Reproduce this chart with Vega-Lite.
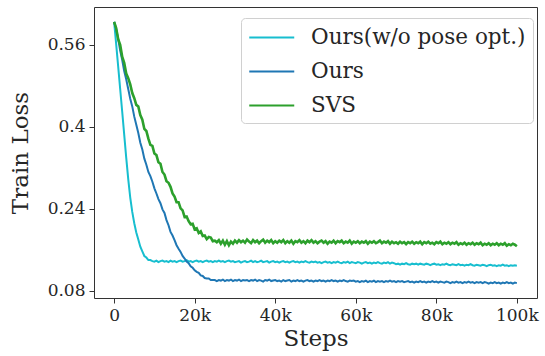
{
  "$schema": "https://vega.github.io/schema/vega-lite/v6.json",
  "width": 443,
  "height": 291,
  "autosize": {"type": "none"},
  "padding": {"left": 94, "top": 7, "right": 8, "bottom": 58},
  "config": {
    "font": "DejaVu Serif",
    "view": {"stroke": "#333333", "strokeWidth": 1},
    "axis": {
      "grid": false, "domain": false,
      "labelFont": "DejaVu Serif", "titleFont": "DejaVu Serif",
      "labelFontSize": 17, "titleFontSize": 23,
      "labelColor": "#262626", "titleColor": "#262626",
      "tickColor": "#333333", "tickSize": 5, "labelPadding": 4,
      "titleFontWeight": "normal"
    }
  },
  "data": {"values": [
    {"s":0,"c":0.605,"b":0.605,"g":0.605},
    {"s":500,"c":0.562,"b":0.591,"g":0.593},
    {"s":1000,"c":0.518,"b":0.572,"g":0.571},
    {"s":1500,"c":0.474,"b":0.549,"g":0.560},
    {"s":2000,"c":0.430,"b":0.531,"g":0.537},
    {"s":2500,"c":0.385,"b":0.509,"g":0.525},
    {"s":3000,"c":0.340,"b":0.493,"g":0.504},
    {"s":3500,"c":0.298,"b":0.474,"g":0.495},
    {"s":4000,"c":0.262,"b":0.455,"g":0.483},
    {"s":4500,"c":0.234,"b":0.440,"g":0.466},
    {"s":5000,"c":0.212,"b":0.420,"g":0.456},
    {"s":5500,"c":0.194,"b":0.404,"g":0.443},
    {"s":6000,"c":0.180,"b":0.388,"g":0.440},
    {"s":6500,"c":0.166,"b":0.369,"g":0.423},
    {"s":7000,"c":0.157,"b":0.356,"g":0.414},
    {"s":7500,"c":0.148,"b":0.338,"g":0.396},
    {"s":8000,"c":0.145,"b":0.326,"g":0.392},
    {"s":8500,"c":0.140,"b":0.312,"g":0.377},
    {"s":9000,"c":0.140,"b":0.304,"g":0.365},
    {"s":9500,"c":0.138,"b":0.293,"g":0.363},
    {"s":10000,"c":0.137,"b":0.280,"g":0.348},
    {"s":10500,"c":0.139,"b":0.270,"g":0.345},
    {"s":11000,"c":0.136,"b":0.259,"g":0.331},
    {"s":11500,"c":0.138,"b":0.251,"g":0.328},
    {"s":12000,"c":0.139,"b":0.239,"g":0.312},
    {"s":12500,"c":0.137,"b":0.232,"g":0.307},
    {"s":13000,"c":0.138,"b":0.218,"g":0.294},
    {"s":13500,"c":0.136,"b":0.208,"g":0.291},
    {"s":14000,"c":0.139,"b":0.195,"g":0.283},
    {"s":14500,"c":0.137,"b":0.188,"g":0.270},
    {"s":15000,"c":0.138,"b":0.179,"g":0.264},
    {"s":15500,"c":0.136,"b":0.169,"g":0.253},
    {"s":16000,"c":0.138,"b":0.162,"g":0.253},
    {"s":16500,"c":0.139,"b":0.156,"g":0.241},
    {"s":17000,"c":0.137,"b":0.148,"g":0.237},
    {"s":17500,"c":0.138,"b":0.143,"g":0.224},
    {"s":18000,"c":0.140,"b":0.137,"g":0.225},
    {"s":18500,"c":0.137,"b":0.134,"g":0.216},
    {"s":19000,"c":0.138,"b":0.128,"g":0.210},
    {"s":19500,"c":0.136,"b":0.125,"g":0.211},
    {"s":20000,"c":0.138,"b":0.120,"g":0.200},
    {"s":20500,"c":0.139,"b":0.117,"g":0.202},
    {"s":21000,"c":0.137,"b":0.115,"g":0.193},
    {"s":21500,"c":0.138,"b":0.110,"g":0.196},
    {"s":22000,"c":0.136,"b":0.109,"g":0.187},
    {"s":22500,"c":0.138,"b":0.105,"g":0.188},
    {"s":23000,"c":0.139,"b":0.104,"g":0.181},
    {"s":23500,"c":0.137,"b":0.104,"g":0.185},
    {"s":24000,"c":0.138,"b":0.101,"g":0.184},
    {"s":24500,"c":0.136,"b":0.101,"g":0.177},
    {"s":25000,"c":0.138,"b":0.101,"g":0.178},
    {"s":25500,"c":0.137,"b":0.099,"g":0.175},
    {"s":26000,"c":0.139,"b":0.101,"g":0.179},
    {"s":26500,"c":0.137,"b":0.100,"g":0.172},
    {"s":27000,"c":0.138,"b":0.102,"g":0.178},
    {"s":27500,"c":0.136,"b":0.099,"g":0.170},
    {"s":28000,"c":0.138,"b":0.101,"g":0.177},
    {"s":28500,"c":0.139,"b":0.100,"g":0.169},
    {"s":29000,"c":0.137,"b":0.102,"g":0.176},
    {"s":29500,"c":0.138,"b":0.099,"g":0.172},
    {"s":30000,"c":0.136,"b":0.101,"g":0.178},
    {"s":30500,"c":0.137,"b":0.100,"g":0.174},
    {"s":31000,"c":0.138,"b":0.102,"g":0.179},
    {"s":31500,"c":0.135,"b":0.099,"g":0.175},
    {"s":32000,"c":0.137,"b":0.101,"g":0.178},
    {"s":32500,"c":0.138,"b":0.100,"g":0.174},
    {"s":33000,"c":0.136,"b":0.101,"g":0.180},
    {"s":33500,"c":0.137,"b":0.099,"g":0.176},
    {"s":34000,"c":0.139,"b":0.101,"g":0.173},
    {"s":34500,"c":0.136,"b":0.100,"g":0.179},
    {"s":35000,"c":0.138,"b":0.102,"g":0.175},
    {"s":35500,"c":0.136,"b":0.099,"g":0.178},
    {"s":36000,"c":0.137,"b":0.101,"g":0.173},
    {"s":36500,"c":0.139,"b":0.100,"g":0.177},
    {"s":37000,"c":0.136,"b":0.098,"g":0.180},
    {"s":37500,"c":0.137,"b":0.101,"g":0.174},
    {"s":38000,"c":0.138,"b":0.100,"g":0.178},
    {"s":38500,"c":0.135,"b":0.102,"g":0.175},
    {"s":39000,"c":0.137,"b":0.099,"g":0.179},
    {"s":39500,"c":0.138,"b":0.100,"g":0.173},
    {"s":40000,"c":0.136,"b":0.101,"g":0.177},
    {"s":40500,"c":0.137,"b":0.099,"g":0.174},
    {"s":41000,"c":0.135,"b":0.100,"g":0.178},
    {"s":41500,"c":0.137,"b":0.098,"g":0.175},
    {"s":42000,"c":0.138,"b":0.101,"g":0.179},
    {"s":42500,"c":0.136,"b":0.099,"g":0.173},
    {"s":43000,"c":0.137,"b":0.100,"g":0.177},
    {"s":43500,"c":0.135,"b":0.101,"g":0.174},
    {"s":44000,"c":0.137,"b":0.098,"g":0.178},
    {"s":44500,"c":0.138,"b":0.100,"g":0.172},
    {"s":45000,"c":0.136,"b":0.099,"g":0.177},
    {"s":45500,"c":0.137,"b":0.101,"g":0.175},
    {"s":46000,"c":0.135,"b":0.099,"g":0.179},
    {"s":46500,"c":0.137,"b":0.100,"g":0.174},
    {"s":47000,"c":0.136,"b":0.098,"g":0.177},
    {"s":47500,"c":0.138,"b":0.100,"g":0.173},
    {"s":48000,"c":0.136,"b":0.101,"g":0.178},
    {"s":48500,"c":0.135,"b":0.099,"g":0.175},
    {"s":49000,"c":0.137,"b":0.100,"g":0.179},
    {"s":49500,"c":0.136,"b":0.098,"g":0.174},
    {"s":50000,"c":0.137,"b":0.100,"g":0.177},
    {"s":50500,"c":0.135,"b":0.099,"g":0.173},
    {"s":51000,"c":0.136,"b":0.101,"g":0.176},
    {"s":51500,"c":0.134,"b":0.099,"g":0.178},
    {"s":52000,"c":0.136,"b":0.100,"g":0.174},
    {"s":52500,"c":0.137,"b":0.098,"g":0.177},
    {"s":53000,"c":0.135,"b":0.100,"g":0.172},
    {"s":53500,"c":0.136,"b":0.099,"g":0.176},
    {"s":54000,"c":0.134,"b":0.101,"g":0.174},
    {"s":54500,"c":0.136,"b":0.099,"g":0.178},
    {"s":55000,"c":0.135,"b":0.100,"g":0.173},
    {"s":55500,"c":0.137,"b":0.098,"g":0.177},
    {"s":56000,"c":0.135,"b":0.100,"g":0.175},
    {"s":56500,"c":0.134,"b":0.099,"g":0.178},
    {"s":57000,"c":0.136,"b":0.101,"g":0.173},
    {"s":57500,"c":0.135,"b":0.099,"g":0.176},
    {"s":58000,"c":0.137,"b":0.098,"g":0.174},
    {"s":58500,"c":0.134,"b":0.100,"g":0.178},
    {"s":59000,"c":0.136,"b":0.099,"g":0.172},
    {"s":59500,"c":0.135,"b":0.100,"g":0.176},
    {"s":60000,"c":0.134,"b":0.098,"g":0.174},
    {"s":60500,"c":0.136,"b":0.099,"g":0.177},
    {"s":61000,"c":0.135,"b":0.097,"g":0.173},
    {"s":61500,"c":0.133,"b":0.099,"g":0.176},
    {"s":62000,"c":0.135,"b":0.098,"g":0.174},
    {"s":62500,"c":0.136,"b":0.100,"g":0.177},
    {"s":63000,"c":0.134,"b":0.097,"g":0.172},
    {"s":63500,"c":0.135,"b":0.099,"g":0.176},
    {"s":64000,"c":0.133,"b":0.098,"g":0.174},
    {"s":64500,"c":0.135,"b":0.100,"g":0.177},
    {"s":65000,"c":0.134,"b":0.097,"g":0.173},
    {"s":65500,"c":0.136,"b":0.099,"g":0.175},
    {"s":66000,"c":0.134,"b":0.098,"g":0.178},
    {"s":66500,"c":0.133,"b":0.099,"g":0.173},
    {"s":67000,"c":0.135,"b":0.097,"g":0.176},
    {"s":67500,"c":0.134,"b":0.099,"g":0.174},
    {"s":68000,"c":0.136,"b":0.098,"g":0.177},
    {"s":68500,"c":0.133,"b":0.100,"g":0.172},
    {"s":69000,"c":0.135,"b":0.098,"g":0.176},
    {"s":69500,"c":0.134,"b":0.099,"g":0.173},
    {"s":70000,"c":0.132,"b":0.097,"g":0.175},
    {"s":70500,"c":0.133,"b":0.099,"g":0.172},
    {"s":71000,"c":0.131,"b":0.098,"g":0.176},
    {"s":71500,"c":0.133,"b":0.099,"g":0.173},
    {"s":72000,"c":0.132,"b":0.097,"g":0.175},
    {"s":72500,"c":0.134,"b":0.098,"g":0.171},
    {"s":73000,"c":0.132,"b":0.099,"g":0.175},
    {"s":73500,"c":0.131,"b":0.097,"g":0.173},
    {"s":74000,"c":0.133,"b":0.098,"g":0.176},
    {"s":74500,"c":0.132,"b":0.096,"g":0.172},
    {"s":75000,"c":0.133,"b":0.098,"g":0.175},
    {"s":75500,"c":0.131,"b":0.097,"g":0.173},
    {"s":76000,"c":0.133,"b":0.099,"g":0.176},
    {"s":76500,"c":0.132,"b":0.097,"g":0.171},
    {"s":77000,"c":0.131,"b":0.098,"g":0.175},
    {"s":77500,"c":0.133,"b":0.096,"g":0.173},
    {"s":78000,"c":0.132,"b":0.098,"g":0.176},
    {"s":78500,"c":0.130,"b":0.097,"g":0.172},
    {"s":79000,"c":0.132,"b":0.099,"g":0.174},
    {"s":79500,"c":0.133,"b":0.097,"g":0.171},
    {"s":80000,"c":0.131,"b":0.098,"g":0.175},
    {"s":80500,"c":0.132,"b":0.096,"g":0.173},
    {"s":81000,"c":0.130,"b":0.098,"g":0.176},
    {"s":81500,"c":0.132,"b":0.097,"g":0.171},
    {"s":82000,"c":0.131,"b":0.096,"g":0.174},
    {"s":82500,"c":0.133,"b":0.098,"g":0.172},
    {"s":83000,"c":0.131,"b":0.097,"g":0.175},
    {"s":83500,"c":0.130,"b":0.095,"g":0.171},
    {"s":84000,"c":0.132,"b":0.097,"g":0.174},
    {"s":84500,"c":0.131,"b":0.096,"g":0.172},
    {"s":85000,"c":0.130,"b":0.098,"g":0.175},
    {"s":85500,"c":0.132,"b":0.096,"g":0.170},
    {"s":86000,"c":0.130,"b":0.097,"g":0.173},
    {"s":86500,"c":0.131,"b":0.095,"g":0.171},
    {"s":87000,"c":0.129,"b":0.097,"g":0.174},
    {"s":87500,"c":0.131,"b":0.096,"g":0.170},
    {"s":88000,"c":0.130,"b":0.098,"g":0.173},
    {"s":88500,"c":0.132,"b":0.096,"g":0.171},
    {"s":89000,"c":0.130,"b":0.097,"g":0.174},
    {"s":89500,"c":0.129,"b":0.095,"g":0.170},
    {"s":90000,"c":0.131,"b":0.097,"g":0.173},
    {"s":90500,"c":0.130,"b":0.096,"g":0.171},
    {"s":91000,"c":0.129,"b":0.097,"g":0.174},
    {"s":91500,"c":0.131,"b":0.095,"g":0.169},
    {"s":92000,"c":0.130,"b":0.097,"g":0.172},
    {"s":92500,"c":0.128,"b":0.096,"g":0.170},
    {"s":93000,"c":0.130,"b":0.094,"g":0.173},
    {"s":93500,"c":0.131,"b":0.096,"g":0.169},
    {"s":94000,"c":0.129,"b":0.095,"g":0.172},
    {"s":94500,"c":0.130,"b":0.097,"g":0.170},
    {"s":95000,"c":0.128,"b":0.095,"g":0.173},
    {"s":95500,"c":0.130,"b":0.096,"g":0.169},
    {"s":96000,"c":0.129,"b":0.094,"g":0.172},
    {"s":96500,"c":0.131,"b":0.096,"g":0.170},
    {"s":97000,"c":0.129,"b":0.095,"g":0.173},
    {"s":97500,"c":0.130,"b":0.097,"g":0.168},
    {"s":98000,"c":0.128,"b":0.095,"g":0.171},
    {"s":98500,"c":0.130,"b":0.096,"g":0.169},
    {"s":99000,"c":0.129,"b":0.094,"g":0.172},
    {"s":99500,"c":0.130,"b":0.096,"g":0.170},
    {"s":100000,"c":0.129,"b":0.095,"g":0.167}
  ]},
  "encoding": {
    "x": {
      "field": "s", "type": "quantitative", "title": "Steps",
      "scale": {"domain": [-5000, 105000], "nice": false, "zero": false},
      "axis": {"values": [0, 20000, 40000, 60000, 80000, 100000], "labelExpr": "datum.value == 0 ? '0' : format(datum.value, '~s')", "titlePadding": 4}
    }
  },
  "layer": [
    {
      "mark": {"type": "line", "strokeWidth": 2},
      "encoding": {
        "y": {
          "field": "c", "type": "quantitative", "title": "Train Loss",
          "scale": {"domain": [0.066, 0.634], "nice": false, "zero": false},
          "axis": {"values": [0.08, 0.24, 0.4, 0.56], "format": ".2~f", "titlePadding": 15}
        },
        "color": {
          "datum": "Ours(w/o pose opt.)", "type": "nominal",
          "scale": {"domain": ["Ours(w/o pose opt.)", "Ours", "SVS"], "range": ["#17becf", "#1f77b4", "#2ca02c"]},
          "legend": {
            "title": null, "orient": "none", "legendX": 147, "legendY": 11,
            "symbolType": "M-1,0L3,0", "symbolSize": 506, "symbolStrokeWidth": 2,
            "labelFontSize": 21.5, "labelFont": "DejaVu Serif", "labelColor": "#262626",
            "labelLimit": 400, "labelOffset": 38, "rowPadding": 11,
            "padding": 7, "strokeColor": "#d0d0d0", "fillColor": "rgba(255,255,255,0.8)",
            "cornerRadius": 4
          }
        }
      }
    },
    {
      "mark": {"type": "line", "strokeWidth": 2},
      "encoding": {
        "y": {"field": "b", "type": "quantitative"},
        "color": {"datum": "Ours", "type": "nominal"}
      }
    },
    {
      "mark": {"type": "line", "strokeWidth": 2.6},
      "encoding": {
        "y": {"field": "g", "type": "quantitative"},
        "color": {"datum": "SVS", "type": "nominal"}
      }
    }
  ]
}
